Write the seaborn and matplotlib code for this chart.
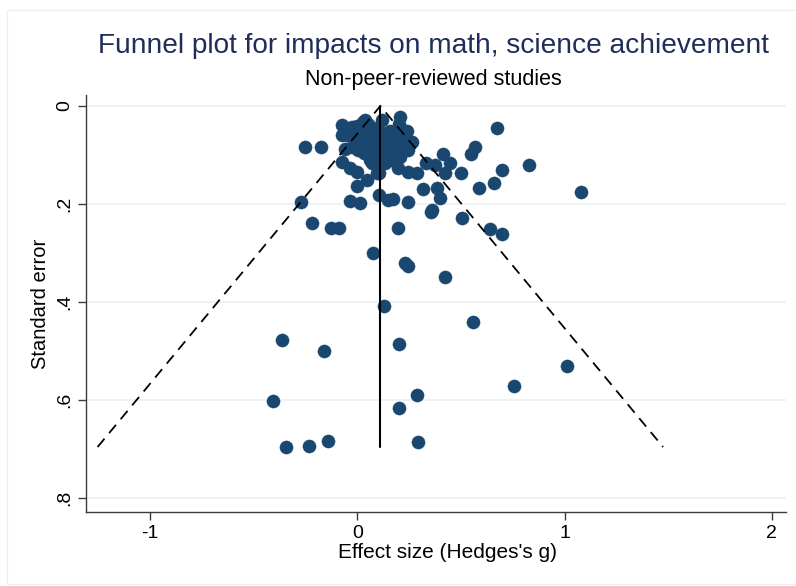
import matplotlib
matplotlib.use("Agg")
import matplotlib.pyplot as plt
import seaborn as sns
import numpy as np
import pandas as pd
from matplotlib.patches import Rectangle

# ---- data ----
effect_size = [
    0.208, 0.242, 0.676, -0.072, -0.024, 0.039, -0.072, -0.251, -0.174, -0.058,
    0.570, 0.546, 0.415, 0.449, 0.329, 0.377, 0.826, 0.700, 0.498, 0.425,
    -0.072, -0.034, 0.000, 0.106, 0.198, 0.246, 0.290, 0.657, 0.585, 0.386,
    0.319, 0.401, 0.000, 0.048, 0.106, 0.150, 0.174, 0.246, -0.034, 0.014,
    -0.271, 0.353, 0.362, 0.507, 1.077, -0.217, -0.126, -0.087, 0.198, 0.638,
    0.700, 0.077, 0.232, 0.246, 0.425, 0.130, 0.556, -0.362, -0.159, 0.203,
    1.010, 0.754, -0.406, 0.290, 0.203, -0.343, -0.232, -0.140, 0.295, 0.072,
    -0.034, 0.000, 0.029, 0.053, 0.077, -0.048, -0.010, 0.024, 0.058, 0.092,
    0.126, 0.159, 0.188, 0.217, 0.010, 0.043, 0.077, 0.111, 0.145, 0.179,
    0.208, -0.024, 0.005, 0.034, 0.068, 0.101, 0.140, 0.174, 0.208, 0.063,
    0.097, 0.135, 0.169, 0.121, 0.203, 0.097, 0.246, 0.266,
]
standard_error = [
    0.022, 0.051, 0.045, 0.039, 0.043, 0.029, 0.059, 0.084, 0.084, 0.088,
    0.084, 0.098, 0.098, 0.116, 0.116, 0.120, 0.120, 0.131, 0.137, 0.137,
    0.114, 0.127, 0.135, 0.137, 0.127, 0.135, 0.137, 0.157, 0.167, 0.167,
    0.169, 0.188, 0.163, 0.151, 0.182, 0.192, 0.190, 0.196, 0.194, 0.198,
    0.196, 0.216, 0.212, 0.229, 0.176, 0.239, 0.249, 0.249, 0.249, 0.251,
    0.261, 0.300, 0.320, 0.327, 0.349, 0.408, 0.441, 0.478, 0.500, 0.486,
    0.531, 0.571, 0.602, 0.590, 0.616, 0.696, 0.694, 0.684, 0.686, 0.116,
    0.045, 0.041, 0.033, 0.037, 0.045, 0.059, 0.055, 0.053, 0.057, 0.061,
    0.055, 0.051, 0.061, 0.069, 0.069, 0.073, 0.076, 0.080, 0.073, 0.080,
    0.086, 0.084, 0.090, 0.096, 0.090, 0.100, 0.094, 0.100, 0.104, 0.110,
    0.114, 0.116, 0.110, 0.029, 0.037, 0.137, 0.090, 0.073,
]
pooled_effect = 0.111
x_ticks = [-1, 0, 1, 2]
x_tick_labels = ["-1", "0", "1", "2"]
y_ticks = [0, 0.2, 0.4, 0.6, 0.8]
y_tick_labels = ["0", ".2", ".4", ".6", ".8"]

df = pd.DataFrame({"g": effect_size, "se": standard_error})

sns.set_theme(style="white")
plt.rcParams["font.family"] = ["Liberation Sans", "DejaVu Sans"]

fig = plt.figure(figsize=(7.96, 5.86), dpi=100)
fig.patch.set_facecolor("white")
# faint outer frame like Stata graph region
fig.add_artist(Rectangle((7 / 796, 0.003), 1.2, 1 - 10 / 586 - 0.003,
                         transform=fig.transFigure, fill=False,
                         edgecolor="#eef0f0", lw=1))

ax = fig.add_axes([86 / 796, 1 - 512 / 586, (786 - 86) / 796, (512 - 95) / 586])

# grid lines
for yt in y_ticks:
    ax.axhline(yt, color="#e8f0f2", lw=1.1, zorder=0)

# funnel
se_max = max(standard_error)
ax.plot([pooled_effect - 1.96 * se_max, pooled_effect, pooled_effect + 1.96 * se_max],
        [se_max, 0, se_max], color="black", lw=1.3, ls=(0, (6, 4)), zorder=3)
ax.plot([pooled_effect, pooled_effect], [0, se_max], color="black", lw=1.5, zorder=3)

sns.scatterplot(data=df, x="g", y="se", ax=ax, color="#1a476f", s=90,
                edgecolor="#1a476f", linewidth=0.3, zorder=2, legend=False)

ax.set_xlim(-1.309, 2.068)
ax.set_ylim(0.8286, -0.0224)
ax.set_xticks(x_ticks)
ax.set_xticklabels(x_tick_labels)
ax.set_yticks(y_ticks)
ax.set_yticklabels(y_tick_labels, rotation=90, va="center")

for s in ["top", "right"]:
    ax.spines[s].set_visible(False)
for s in ["left", "bottom"]:
    ax.spines[s].set_color("#3c3c3c")
    ax.spines[s].set_linewidth(1.0)
ax.tick_params(axis="both", direction="out", length=6, width=1, color="#3c3c3c",
               labelsize=14, labelcolor="black", pad=3)
ax.tick_params(axis="x", bottom=True)
ax.tick_params(axis="y", left=True)

ax.set_xlabel("Effect size (Hedges's g)", fontsize=15, color="black", labelpad=0)
ax.xaxis.set_label_coords((447 - 86) / 700, -0.098)
ax.xaxis.label.set_va("center")
ax.set_ylabel("Standard error", fontsize=14.5, color="black", labelpad=5)

fig.text(0.545, 1 - 46 / 586, "Funnel plot for impacts on math, science achievement",
         ha="center", va="center", fontsize=20.2, color="#1e2d5a")
fig.text(0.545, 1 - 80 / 586, "Non-peer-reviewed studies",
         ha="center", va="center", fontsize=15.5, color="black")

fig.savefig("out.png", dpi=100, facecolor="white")
